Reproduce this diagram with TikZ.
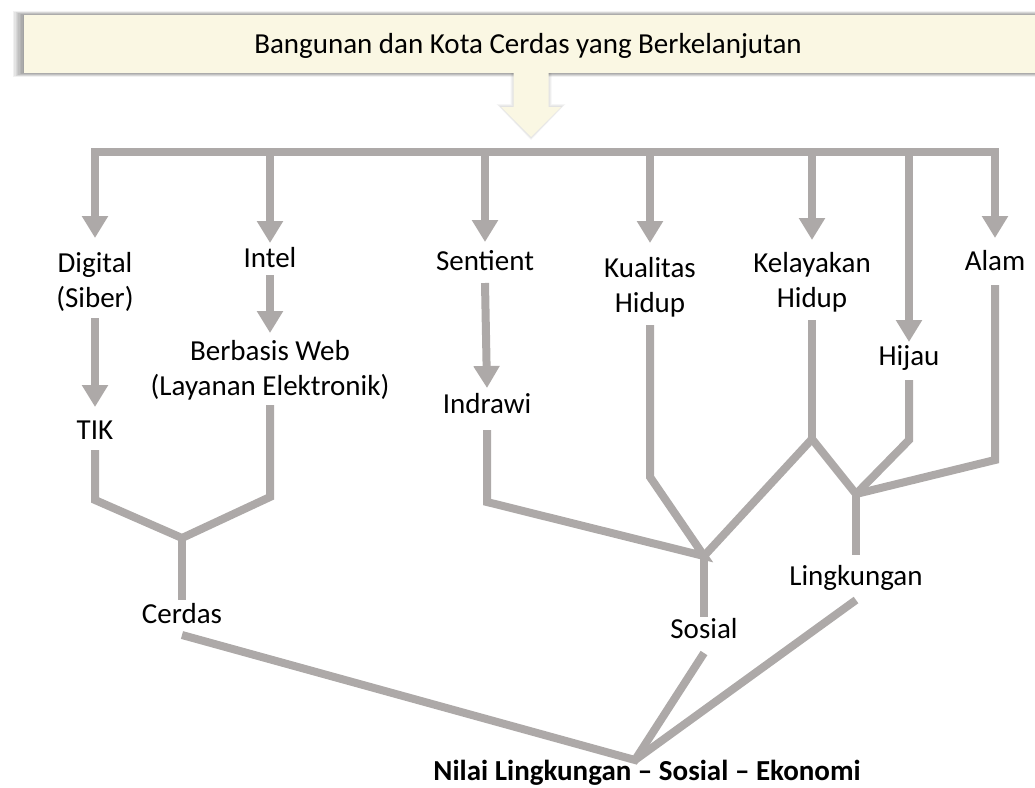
\documentclass[tikz,border=0pt]{standalone}
\usepackage{fontspec}
\setmainfont{Carlito}
\usetikzlibrary{arrows.meta}
\definecolor{branch}{RGB}{173,169,168}
\definecolor{cream}{RGB}{250,247,227}
\begin{document}
\begin{tikzpicture}[x=1pt,y=-1pt,
  lbl/.style={font=\fontsize{29}{35}\selectfont, inner sep=0pt, outer sep=0pt, align=center, anchor=base},
  boldlbl/.style={lbl, font=\bfseries\fontsize{29}{35}\selectfont},
  trunk/.style={draw=branch, line width=8pt},
  arr/.style={trunk, -{Triangle[width=25pt,length=22pt]}},
]
\useasboundingbox (0,0) rectangle (1035,787);

% title banner with a soft shadow on its left
\foreach \k in {1,...,8}
  \fill[black, opacity=0.055] (24-\k*1.4, 15-\k*0.45) rectangle (1045, 73+\k*0.45);
\fill[cream] (24,15) rectangle (1045,73);
\node[lbl] (title) at (528,53) {Bangunan dan Kota Cerdas yang Berkelanjutan};

% block arrow under the banner
\foreach \k in {1,...,3}
  \fill[black, opacity=0.04] (513.5-\k,73) -- (548.5+\k,73) -- (548.5+\k,107-\k) -- (561+1.5*\k,107-\k)
     -- (531,137+\k) -- (501-1.5*\k,107-\k) -- (513.5-\k,107-\k) -- cycle;
\fill[cream] (513.5,73) -- (548.5,73) -- (548.5,107) -- (561,107) -- (531,137)
     -- (501,107) -- (513.5,107) -- cycle;

% labels (multi-line labels sit on the baseline of their last line)
\node[lbl] (dg)  at (95,307)  {Digital\\(Siber)};
\node[lbl] (in)  at (270,267) {Intel};
\node[lbl] (se)  at (485,270) {Sentient};
\node[lbl] (ku)  at (650,312) {Kualitas\\Hidup};
\node[lbl] (ke)  at (812,307) {Kelayakan\\Hidup};
\node[lbl] (hi)  at (909,365) {Hijau};
\node[lbl] (al)  at (995,270) {Alam};
\node[lbl] (tik) at (95,439)  {TIK};
\node[lbl] (web) at (270,395) {Berbasis Web\\(Layanan Elektronik)};
\node[lbl] (ind) at (487,413) {Indrawi};
\node[lbl] (cer) at (182,623) {Cerdas};
\node[lbl] (sos) at (704,638) {Sosial};
\node[lbl] (lin) at (856,585) {Lingkungan};
\node[boldlbl] (nil) at (647,780) {Nilai Lingkungan – Sosial – Ekonomi};

% distribution bus
\coordinate (bus) at (0,152);
\draw[trunk, line cap=rect] (dg.base |- bus) -- (al.base |- bus);
\draw[arr] (dg.base |- bus) -- ([yshift=69pt]dg.base);
\draw[arr] (in.base |- bus) -- ([yshift=24pt]in.base);
\draw[arr] (se.base |- bus) -- ([yshift=28pt]se.base);
\draw[arr] (ku.base |- bus) -- ([yshift=69pt]ku.base);
\draw[arr] (ke.base |- bus) -- ([yshift=67pt]ke.base);
\draw[arr] (hi.base |- bus) -- ([yshift=23pt]hi.base);
\draw[arr] (al.base |- bus) -- ([yshift=32pt]al.base);

% second-level arrows
\draw[arr] ([yshift=-11pt]dg.base) -- ([yshift=32pt]tik.base);
\draw[arr] ([yshift=-8pt]in.base) -- ([yshift=62pt]web.base);
\draw[arr] ([yshift=-13pt]se.base) -- ([yshift=25pt]ind.base);

% junction points
\coordinate (jL) at (182,538);
\coordinate (jS) at (704,556);
\coordinate (jK) at (812,439);
\coordinate (jG) at (856,494);
\coordinate (jN) at (635,760);

% left branch: TIK + web services -> Cerdas
\draw[trunk] ([yshift=-11pt]tik.base) -- (95,500) -- (jL) -- (270,497) -- ([yshift=-10pt]web.base);
\draw[trunk] (jL) -- ([yshift=23pt]cer.base);

% middle branch: Indrawi + quality of life -> Sosial
\draw[trunk] ([yshift=-17pt]ind.base) -- (487,502) -- (jS) -- (650,477) -- ([yshift=-13pt]ku.base);
\draw[trunk] ([yshift=-13pt]ke.base) -- (jK);
\draw[trunk] (jS) -- (jK) -- (jG);
\draw[trunk] (jS) -- ([yshift=21pt]sos.base);

% right branch: Hijau + Alam -> Lingkungan
\draw[trunk] ([yshift=-15pt]hi.base) -- (909,440) -- (jG);
\draw[trunk] ([yshift=-15pt]al.base) -- (995,460) -- (jG);
\draw[trunk] (jG) -- ([yshift=30pt]lin.base);

% final merge
\draw[trunk] ([yshift=-12pt]cer.base) -- (jN) -- ([yshift=-15pt]sos.base);
\draw[trunk] (jN) -- ([yshift=-15pt]lin.base);
\end{tikzpicture}
\end{document}
